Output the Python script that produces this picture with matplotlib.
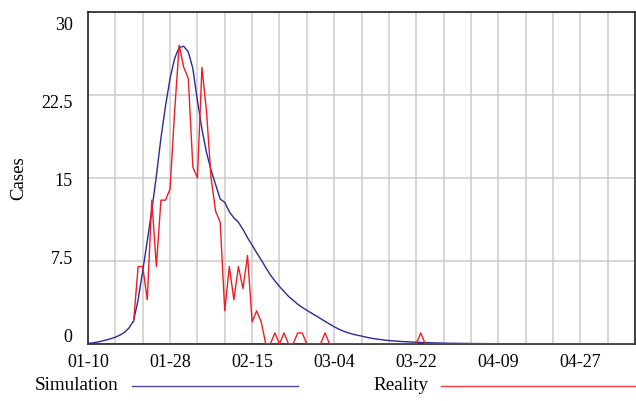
import matplotlib
matplotlib.use("Agg")
import matplotlib.pyplot as plt
import matplotlib.transforms as mtransforms
from matplotlib.lines import Line2D
import pandas as pd

plt.rcParams['font.family'] = ['Liberation Serif', 'DejaVu Serif']

start_date = "2020-01-10"
n_days = 121

simulation = [
    0.05, 0.1, 0.17, 0.26, 0.36, 0.48, 0.62, 0.8, 1.05, 1.45,
    2.1, 4.0, 6.6, 9.3, 12.1, 15.2, 18.6, 21.5, 24.0, 25.8,
    26.8, 26.9, 26.4, 24.9, 22.0, 19.4, 17.3, 15.7, 14.4, 13.1,
    12.8, 11.95, 11.4, 11.0, 10.35, 9.6, 8.94, 8.25, 7.6, 6.9,
    6.25, 5.7, 5.2, 4.75, 4.3, 3.95, 3.6, 3.3, 3.05, 2.8,
    2.55, 2.3, 2.05, 1.8, 1.56, 1.35, 1.17, 1.02, 0.9, 0.8,
    0.72, 0.62, 0.53, 0.47, 0.41, 0.36, 0.31, 0.28, 0.25, 0.22,
    0.2, 0.18, 0.16, 0.14, 0.12, 0.11, 0.1, 0.09, 0.08, 0.07,
    0.065, 0.06, 0.055, 0.05, 0.045, 0.04, 0.037, 0.034, 0.031, 0.028,
    0.025, 0.023, 0.021, 0.019, 0.017, 0.016, 0.015, 0.014, 0.013, 0.012,
    0.011, 0.01, 0.009, 0.008, 0.008, 0.007, 0.007, 0.006, 0.006, 0.005,
    0.005, 0.005, 0.004, 0.004, 0.004, 0.003, 0.003, 0.003, 0.003, 0.002,
    0.002,
]

reality_start_day = 10
reality = [
    2, 7, 7, 4, 13, 7, 13, 13, 14, 21,   # days 10-19
    27, 25, 24, 16, 15, 25, 21, 15, 12, 11,  # days 20-29
    3, 7, 4, 7, 5, 8, 2, 3, 2, 0,        # days 30-39
    0, 1, 0, 1, 0, 0, 1, 1, 0, 0,        # days 40-49
    0, 0, 1, 0, 0, 0, 0, 0, 0, 0,        # days 50-59
    0, 0, 0, 0, 0, 0, 0, 0, 0, 0,        # days 60-69
    0, 0, 0, 1, 0, 0, 0, 0, 0, 0,        # days 70-79
    0, 0, 0, 0, 0, 0, 0, 0, 0, 0,        # days 80-89
    0, 0, 0, 0, 0, 0, 0, 0, 0, 0,        # days 90-99
    0, 0, 0, 0, 0, 0, 0, 0, 0, 0,        # days 100-109
    0, 0, 0, 0, 0, 0, 0, 0, 0, 0,        # days 110-119
    0,                                   # day 120
]

x_tick_labels = ["01-10", "01-28", "02-15", "03-04", "03-22", "04-09", "04-27"]
y_ticks = [0, 7.5, 15, 22.5, 30]
y_tick_labels = ["0", "7.5", "15", "22.5", "30"]
series_names = ["Simulation", "Reality"]
y_label = "Cases"

sim_color = "#2a2a96"
real_color = "#f01c24"

dates = pd.date_range(start_date, periods=n_days, freq="D")
real_dates = dates[reality_start_day:reality_start_day + len(reality)]

fig = plt.figure(figsize=(6.36, 4.01), dpi=100)
ax = fig.add_axes([88/636, 57/401, 547/636, 332/401])

ax.plot(dates, simulation, color=sim_color, lw=1.0, zorder=3)
ax.plot(real_dates, reality, color=real_color, lw=1.0, zorder=4)

ax.set_xlim(dates[0], dates[-1])
ax.set_ylim(0, 30)

tick_dates = [pd.Timestamp("2020-" + s) for s in x_tick_labels]
ax.set_xticks(tick_dates)
ax.set_xticklabels(x_tick_labels)
ax.set_xticks(list(dates[::6]), minor=True)
ax.set_yticks(y_ticks)
ax.set_yticklabels(y_tick_labels)

ax.grid(True, which="both", axis="x", color="#cccccc", lw=1.1)
ax.grid(True, which="major", axis="y", color="#cccccc", lw=1.1)
ax.set_axisbelow(True)

ax.tick_params(axis="both", which="both", length=0, labelsize=13)
ax.tick_params(axis="x", pad=7.5)
ax.tick_params(axis="y", pad=11)

# Vensim-style label compression toward the centre
for i, lab in enumerate(ax.get_yticklabels()):
    dy = (9 - 5.25 * i) / 100.0
    lab.set_transform(lab.get_transform() +
                      mtransforms.ScaledTranslation(0, dy, fig.dpi_scale_trans))

for side in ["left", "bottom", "top", "right"]:
    ax.spines[side].set_color("#222222")
    ax.spines[side].set_linewidth(1.2)

fig.text(19/636, (401-178)/401, y_label, rotation=90, ha="center", va="center", fontsize=13.5)

leg_y = (401 - 385.7) / 401
fig.text(35/636, leg_y, series_names[0], ha="left", va="center", fontsize=13.8)
fig.add_artist(Line2D([132/636, 298/636], [leg_y, leg_y], color=sim_color, lw=1.0, alpha=0.85))
fig.text(373/636, leg_y, series_names[1], ha="left", va="center", fontsize=13.8)
fig.add_artist(Line2D([441/636, 636/636], [leg_y, leg_y], color=real_color, lw=1.0, alpha=0.85))

fig.savefig("out.png", dpi=100)
